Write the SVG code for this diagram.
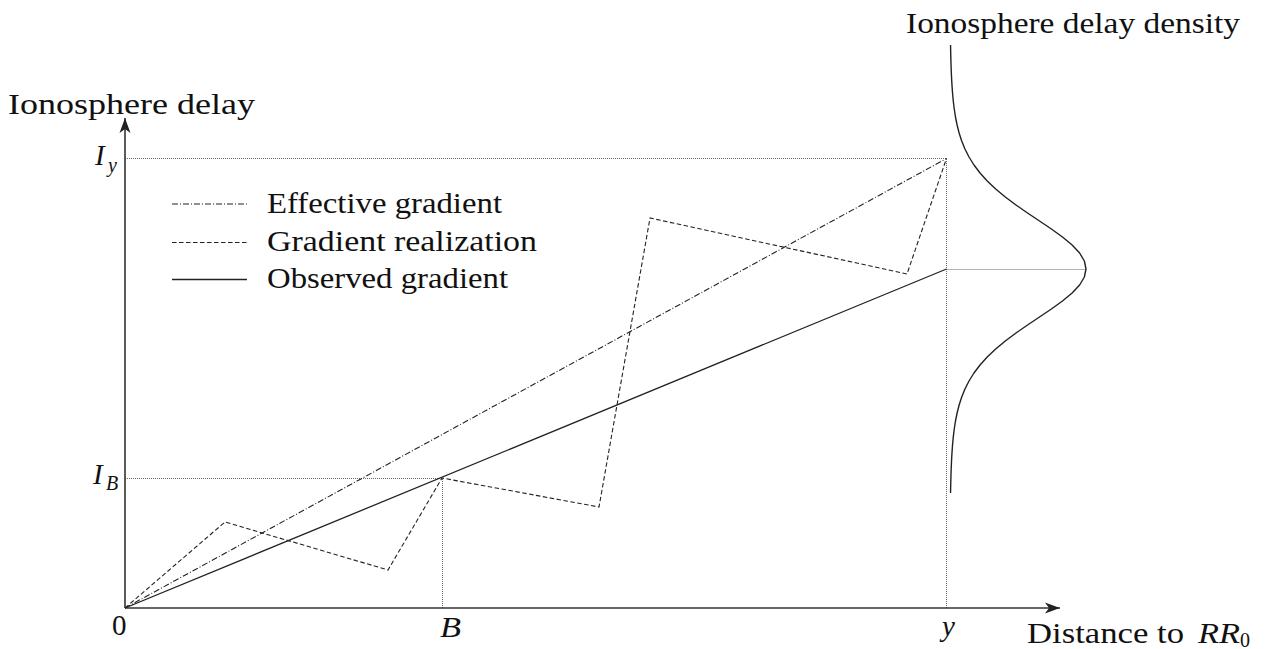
<svg xmlns="http://www.w3.org/2000/svg" width="1268" height="649" viewBox="0 0 1268 649">
<style>
.t{font-family:"Liberation Serif",serif;font-size:29px;fill:#111}
.m{font-style:italic}
.s{font-size:20px}
.ax{stroke:#333;stroke-width:1.6;fill:none}
.gd{stroke:#666;stroke-width:1;stroke-dasharray:1 1;fill:none}
.obs{stroke:#222;stroke-width:1.3;fill:none}
.eff{stroke:#222;stroke-width:1.1;stroke-dasharray:6 2 1 2;fill:none}
.real{stroke:#222;stroke-width:1.1;stroke-dasharray:4.5 2.5;fill:none}
.den{stroke:#222;stroke-width:1.4;fill:none;stroke-linejoin:round}
</style>
<defs>
<marker id="arr" markerUnits="userSpaceOnUse" markerWidth="17" markerHeight="13" viewBox="-16 -6.5 17 13" refX="0" refY="0" orient="auto">
<path d="M0,0 L-15,-5.5 L-11,0 L-15,5.5 Z" fill="#222"/>
</marker>
</defs>
<rect width="1268" height="649" fill="#fff"/>

<g id="guides">
<path class="gd" d="M125,158.5 H946.5 V608"/>
<path class="gd" d="M125,478.5 H442.5 V608"/>
<path class="gd" d="M946.5,269.5 H1086"/>
</g>

<g id="axes">
<line class="ax" x1="125" y1="608" x2="1060" y2="608" marker-end="url(#arr)"/>
<line class="ax" x1="125" y1="608" x2="125" y2="118" marker-end="url(#arr)"/>
</g>

<g id="connectors">
<polyline id="effective" class="eff" points="125,608 946.5,158.5"/>
<polyline id="realization" class="real" points="125,608 225,522 388,570 442,478 599,507 650,218 907,274 946.5,158.5"/>
<polyline id="observed" class="obs" points="125,608 946.5,269"/>
</g>

<g id="density">
<polyline class="den" points="950.55,45 950.71,53 950.91,61 951.18,69 951.52,77 951.96,85 952.54,93 953.28,101 954.25,109 955.49,117 957.09,125 959.12,133 961.71,141 964.96,149 969.01,157 973.99,165 980.03,173 987.24,181 995.67,189 1005.3,197 1016.01,205 1027.54,213 1039.51,221 1051.38,229 1062.49,237 1072.13,245 1079.62,253 1084.37,261 1086,269 1084.37,277 1079.62,285 1072.13,293 1062.49,301 1051.38,309 1039.51,317 1027.54,325 1016.01,333 1005.3,341 995.67,349 987.24,357 980.03,365 973.99,373 969.01,381 964.96,389 961.71,397 959.12,405 957.09,413 955.49,421 954.25,429 953.28,437 952.54,445 951.96,453 951.52,461 951.18,469 950.91,477 950.71,485 950.55,493"/>
</g>

<g id="legend">
<line class="eff" x1="172" y1="204" x2="247" y2="204"/>
<line class="real" x1="172" y1="242.5" x2="247" y2="242.5"/>
<line class="obs" x1="172" y1="279.5" x2="247" y2="279.5"/>
<text class="t" x="267" y="213" textLength="235" lengthAdjust="spacingAndGlyphs">Effective gradient</text>
<text class="t" x="267" y="251" textLength="270" lengthAdjust="spacingAndGlyphs">Gradient realization</text>
<text class="t" x="267" y="288" textLength="241" lengthAdjust="spacingAndGlyphs">Observed gradient</text>
</g>

<g id="labels">
<text id="ylabel" class="t" x="8" y="114" textLength="247" lengthAdjust="spacingAndGlyphs">Ionosphere delay</text>
<text id="densitylabel" class="t" x="906" y="33" textLength="334" lengthAdjust="spacingAndGlyphs">Ionosphere delay density</text>
<text id="Iy" class="t m" x="95" y="165">I<tspan class="s" x="108" y="172">y</tspan></text>
<text id="IB" class="t m" x="93" y="484">I<tspan class="s" x="106" y="490">B</tspan></text>
<text id="zero" class="t" x="112" y="635">0</text>
<text id="B" class="t m" x="440" y="637" textLength="21" lengthAdjust="spacingAndGlyphs">B</text>
<text id="y" class="t m" x="942" y="636">y</text>
<text id="xlabel" class="t"><tspan x="1027" y="643" textLength="157" lengthAdjust="spacingAndGlyphs">Distance to</tspan><tspan class="m" x="1198" y="643" textLength="42" lengthAdjust="spacingAndGlyphs">RR</tspan><tspan class="s" x="1240" y="647">0</tspan></text>
</g>
</svg>
